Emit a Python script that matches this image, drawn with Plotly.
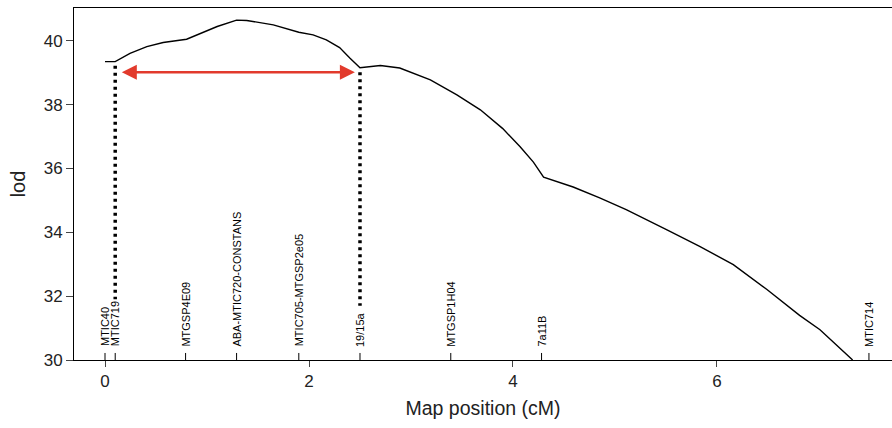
import plotly.graph_objects as go

# LOD profile (position in cM, LOD)
pos = [0.0, 0.10, 0.245, 0.41, 0.57, 0.80, 1.10, 1.29, 1.39, 1.65, 1.90, 2.04, 2.17,
       2.30, 2.40, 2.50, 2.70, 2.89, 3.19, 3.45, 3.68, 3.90, 4.07, 4.20, 4.30, 4.40, 4.59,
       4.85, 5.11, 5.51, 5.83, 6.16, 6.49, 6.81, 7.01, 7.33]
lod = [39.35, 39.35, 39.61, 39.82, 39.95, 40.05, 40.45, 40.65, 40.64, 40.50, 40.27,
       40.19, 40.03, 39.79, 39.46, 39.16, 39.23, 39.15, 38.78, 38.31, 37.84, 37.25, 36.68,
       36.20, 35.73, 35.63, 35.42, 35.08, 34.71, 34.08, 33.56, 32.99, 32.21, 31.40,
       30.95, 30.00]

# Genetic markers
marker_names = ["MTIC40", "MTIC719", "MTGSP4E09", "ABA-MTIC720-CONSTANS",
                "MTIC705-MTGSP2e05", "19/15a", "MTGSP1H04", "7a11B", "MTIC714"]
marker_pos = [0.0, 0.10, 0.79, 1.29, 1.90, 2.50, 3.39, 4.28, 7.49]

# Support interval
ci_left, ci_right = 0.10, 2.50
ci_left_top, ci_right_top = 39.22, 39.02
ci_left_bottom, ci_right_bottom = 31.9, 31.7
arrow_y = 39.02

x_ticks = [0, 2, 4, 6]
y_ticks = [30, 32, 34, 36, 38, 40]

FONT = "Liberation Sans, Arial, sans-serif"

fig = go.Figure()

fig.add_trace(go.Scatter(x=pos, y=lod, mode="lines",
                         line=dict(color="black", width=1.4), hoverinfo="skip"))

# marker ticks
mx, my = [], []
for p in marker_pos:
    mx += [p, p, None]
    my += [30, 30.22, None]
fig.add_trace(go.Scatter(x=mx, y=my, mode="lines",
                         line=dict(color="black", width=1), hoverinfo="skip"))

# dotted support-interval lines
fig.add_trace(go.Scatter(x=[ci_left, ci_left, None, ci_right, ci_right],
                         y=[ci_left_top, ci_left_bottom, None, ci_right_top, ci_right_bottom],
                         mode="lines",
                         line=dict(color="black", width=3.5, dash="3px,4px"),
                         hoverinfo="skip"))

for name, p in zip(marker_names, marker_pos):
    fig.add_annotation(x=p, y=30.36, text=name, textangle=-90, showarrow=False,
                       xanchor="center", yanchor="bottom",
                       font=dict(family=FONT, size=11, color="black"))

# red double arrow
fig.add_annotation(x=ci_right - 0.05, y=arrow_y, ax=ci_left + 0.05, ay=arrow_y,
                   xref="x", yref="y", axref="x", ayref="y", text="",
                   showarrow=True, arrowhead=2, startarrowhead=2, arrowside="end+start",
                   arrowsize=1.2, startarrowsize=1.2, arrowwidth=2.5, arrowcolor="#e23a2c")

fig.update_layout(
    width=892, height=428,
    margin=dict(l=74, r=0, t=8, b=67.5),
    plot_bgcolor="white", paper_bgcolor="white",
    showlegend=False,
    font=dict(family=FONT, color="#222"),
)
fig.update_xaxes(range=[-0.304, 7.716], tickvals=x_ticks, ticks="outside", ticklen=6,
                 showgrid=False, zeroline=False, showline=True, linecolor="black",
                 linewidth=1, mirror=True, tickfont=dict(size=17), automargin=False,
                 title=dict(text="Map position (cM)", font=dict(size=19.5), standoff=10))
fig.update_yaxes(range=[30, 41.03], tickvals=y_ticks, ticks="outside", ticklen=7,
                 showgrid=False, zeroline=False, showline=True, linecolor="black",
                 linewidth=1, tickfont=dict(size=17), automargin=False,
                 title=dict(text="lod", font=dict(size=20), standoff=12))

fig.write_html("out.html", config={"displayModeBar": False},
               post_script="document.body.style.margin='0';document.body.style.padding='0';")
